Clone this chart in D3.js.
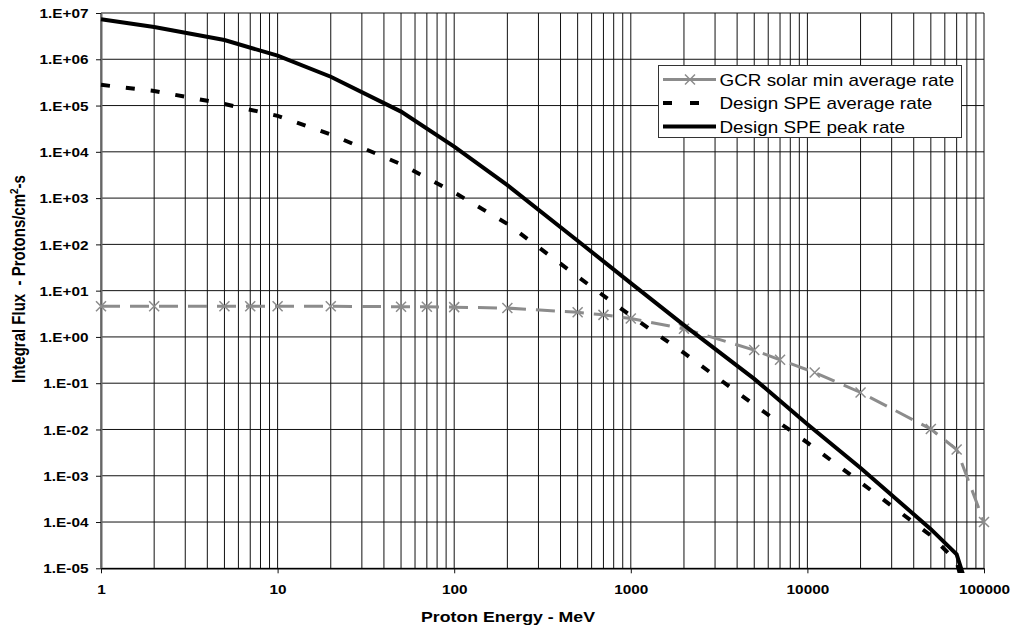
<!DOCTYPE html>
<html>
<head>
<meta charset="utf-8">
<script src="https://cdn.jsdelivr.net/npm/d3@7/dist/d3.min.js"></script>
<style>
  html, body { margin: 0; padding: 0; background: #fff; }
  svg { display: block; }
  text { font-family: "Liberation Sans", Arial, sans-serif; }
</style>
</head>
<body>
<svg id="chart" width="1013" height="631"></svg>
<script>
// Integral proton flux vs. energy (log-log)
const energyGCR = [1, 2, 5, 7, 10, 20, 50, 70, 100, 200, 500, 700, 1000, 2000, 5000, 7000, 11000, 20000, 50000, 70000, 100000];
const fluxGCR   = [4.6, 4.6, 4.6, 4.6, 4.6, 4.6, 4.5, 4.5, 4.4, 4.2, 3.4, 3.0, 2.5, 1.5, 0.52, 0.32, 0.17, 0.063, 0.0102, 0.0037, 0.0001];

const energySPE = [1, 2, 5, 10, 20, 50, 100, 200, 500, 1000, 2000, 5000, 10000, 20000, 50000, 70000, 80000];
const fluxSPEavg  = [2.8e5, 2.07e5, 1.08e5, 6.0e4, 2.37e4, 5.4e3, 1.33e3, 2.77e2, 20.2, 2.86, 0.45, 0.034, 5.2e-3, 7.2e-4, 5.1e-5, 1.4e-5, 2e-6];
const fluxSPEpeak = [7.3e6, 5.0e6, 2.6e6, 1.2e6, 4.2e5, 7.4e4, 1.3e4, 1.9e3, 1.2e2, 14.5, 1.8, 0.124, 0.013, 1.47e-3, 7e-5, 2.0e-5, 4e-6];

const xTickValues = [1, 10, 100, 1000, 10000, 100000];
const yTickValues = [1e-5, 1e-4, 1e-3, 1e-2, 1e-1, 1e0, 1e1, 1e2, 1e3, 1e4, 1e5, 1e6, 1e7];

const seriesNames = ["GCR solar min average rate", "Design SPE average rate", "Design SPE peak rate"];

const svg = d3.select("#chart");
const W = 1013, H = 631;
const plot = { left: 101, right: 984, top: 13, bottom: 568.3 };
const SX = 1.18; // horizontal glyph stretch

svg.append("rect").attr("width", W).attr("height", H).attr("fill", "#fff");

const x = d3.scaleLog().domain([1, 1e5]).range([plot.left, plot.right]);
const y = d3.scaleLog().domain([1e-5, 1e7]).range([plot.bottom, plot.top]);

// gridlines: every 1..9 x 10^k vertically, every decade horizontally
const xMinor = [];
for (let k = 0; k < 5; k++) for (let m = 1; m < 10; m++) xMinor.push(m * Math.pow(10, k));
xMinor.push(1e5);

const grid = svg.append("g");
grid.selectAll("line.v").data(xMinor).join("line")
  .attr("x1", d => x(d)).attr("x2", d => x(d))
  .attr("y1", plot.top).attr("y2", plot.bottom)
  .attr("stroke", "#111").attr("stroke-width", 1);
grid.selectAll("line.h").data(yTickValues).join("line")
  .attr("x1", plot.left).attr("x2", plot.right)
  .attr("y1", d => y(d)).attr("y2", d => y(d))
  .attr("stroke", "#111").attr("stroke-width", 1);

// axes
const fmtY = v => {
  const e = Math.round(Math.log10(v));
  const s = e < 0 ? "-" : "+";
  return "1.E" + s + String(Math.abs(e)).padStart(2, "0");
};

const gy = svg.append("g").attr("transform", `translate(${plot.left},0)`)
  .call(d3.axisLeft(y).tickValues(yTickValues).tickFormat(fmtY).tickSize(5).tickSizeOuter(0));
gy.select(".domain").attr("stroke", "#666").attr("stroke-width", 2);
gy.selectAll(".tick line").attr("stroke", "#111");
gy.selectAll(".tick text")
  .attr("x", null).attr("dy", "0.36em")
  .attr("transform", `translate(-12.5,0) scale(${SX},1)`)
  .attr("font-size", 13).attr("font-weight", "bold").attr("fill", "#000")
  .attr("text-anchor", "end");

const gx = svg.append("g").attr("transform", `translate(0,${plot.bottom})`)
  .call(d3.axisBottom(x).tickValues(xTickValues).tickFormat(d3.format("d")).tickSize(5).tickSizeOuter(0));
gx.select(".domain").attr("stroke", "#000").attr("stroke-width", 1.5);
gx.selectAll(".tick line").attr("stroke", "#111");
gx.selectAll(".tick text")
  .attr("y", null).attr("dy", null)
  .attr("transform", `translate(0,25.5) scale(${SX},1)`)
  .attr("font-size", 13).attr("font-weight", "bold").attr("fill", "#000")
  .attr("text-anchor", "middle");
gx.attr("font-family", null); gy.attr("font-family", null);

// axis titles
svg.append("text")
  .attr("transform", `translate(508,622) scale(${SX},1)`)
  .attr("text-anchor", "middle").attr("font-size", 15).attr("font-weight", "bold")
  .text("Proton Energy - MeV");

const yt = svg.append("text")
  .attr("transform", `translate(25,279) scale(${SX},1) rotate(-90)`)
  .attr("text-anchor", "middle").attr("font-size", 15).attr("font-weight", "bold");
yt.append("tspan").text("Integral Flux \u00a0- Protons/cm");
yt.append("tspan").attr("font-size", 10).attr("dy", -6).text("2");
yt.append("tspan").attr("dy", 6).text("-s");

// series
svg.append("clipPath").attr("id", "clip").append("rect")
  .attr("x", plot.left - 8).attr("y", plot.top - 8)
  .attr("width", plot.right - plot.left + 20).attr("height", 573 - plot.top + 8);

const line = d3.line().x(d => x(d[0])).y(d => y(d[1]));
const series = svg.append("g").attr("clip-path", "url(#clip)");

const gcr = energyGCR.map((e, i) => [e, fluxGCR[i]]);
const avg = energySPE.map((e, i) => [e, fluxSPEavg[i]]);
const peak = energySPE.map((e, i) => [e, fluxSPEpeak[i]]);

series.append("path").datum(gcr).attr("d", line)
  .attr("fill", "none").attr("stroke", "#8c8c8c").attr("stroke-width", 3)
  .attr("stroke-dasharray", "19,10");

const xMark = (g, cx, cy) => {
  const r = 5;
  g.append("path")
    .attr("d", `M${cx - r},${cy - r}L${cx + r},${cy + r}M${cx - r},${cy + r}L${cx + r},${cy - r}`)
    .attr("stroke", "#8c8c8c").attr("stroke-width", 1.5).attr("fill", "none");
};
const marks = series.append("g");
gcr.forEach(d => xMark(marks, x(d[0]), y(d[1])));

series.append("path").datum(avg).attr("d", line)
  .attr("fill", "none").attr("stroke", "#000").attr("stroke-width", 4)
  .attr("stroke-dasharray", "9,16");

series.append("path").datum(peak).attr("d", line)
  .attr("fill", "none").attr("stroke", "#000").attr("stroke-width", 4);

// legend
const lg = svg.append("g");
lg.append("rect").attr("x", 658.5).attr("y", 65.5).attr("width", 303).attr("height", 72)
  .attr("fill", "#fff").attr("stroke", "#333").attr("stroke-width", 1);
const rows = [79.5, 103, 126.5];
const lx1 = 663, lx2 = 716;
lg.append("line").attr("x1", lx1).attr("x2", lx2).attr("y1", rows[0]).attr("y2", rows[0])
  .attr("stroke", "#8c8c8c").attr("stroke-width", 3);
xMark(lg, (lx1 + lx2) / 2 + 0.5, rows[0]);
lg.append("line").attr("x1", lx1).attr("x2", lx2).attr("y1", rows[1]).attr("y2", rows[1])
  .attr("stroke", "#000").attr("stroke-width", 4).attr("stroke-dasharray", "9,18");
lg.append("line").attr("x1", lx1).attr("x2", lx2).attr("y1", rows[2]).attr("y2", rows[2])
  .attr("stroke", "#000").attr("stroke-width", 4);
seriesNames.forEach((n, i) => {
  lg.append("text").attr("transform", `translate(719.5,${rows[i] + 6}) scale(${SX},1)`)
    .attr("font-size", 16).attr("fill", "#000").text(n);
});
</script>
</body>
</html>
